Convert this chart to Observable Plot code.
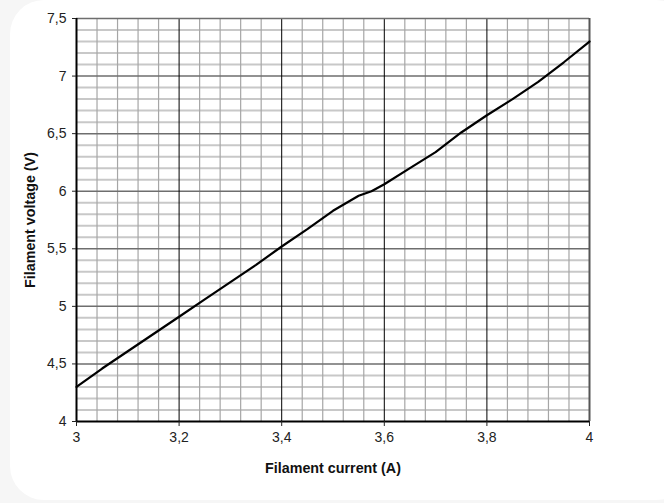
<!DOCTYPE html>
<html>
<head>
<meta charset="utf-8">
<script src="https://cdn.jsdelivr.net/npm/d3@7"></script>
<script src="https://cdn.jsdelivr.net/npm/@observablehq/plot@0.6"></script>
<style>
  html, body { margin: 0; padding: 0; background: #f6f6f6; width: 664px; height: 503px; overflow: hidden; }
  #card { position: absolute; left: 10px; top: 0; width: 680px; height: 500px; background: #fff; border-radius: 34px; }
  #chart { position: absolute; left: 0; top: 0; }
  svg { font-family: "Liberation Sans", Arial, sans-serif; }
</style>
</head>
<body>
<div id="card"></div>
<div id="chart"></div>
<script>
const current = [3.00, 3.05, 3.10, 3.15, 3.20, 3.25, 3.30, 3.35, 3.40, 3.45, 3.50, 3.55, 3.575, 3.60, 3.65, 3.70, 3.75, 3.80, 3.85, 3.90, 3.95, 4.00];
const voltage = [4.30, 4.46, 4.61, 4.76, 4.91, 5.06, 5.21, 5.36, 5.52, 5.67, 5.83, 5.96, 6.00, 6.06, 6.20, 6.34, 6.51, 6.66, 6.80, 6.95, 7.12, 7.30];
const xMajor = [3, 3.2, 3.4, 3.6, 3.8, 4];
const xMinor = [3.04, 3.08, 3.12, 3.16, 3.24, 3.28, 3.32, 3.36, 3.44, 3.48, 3.52, 3.56, 3.64, 3.68, 3.72, 3.76, 3.84, 3.88, 3.92, 3.96];
const yMajor = [4, 4.5, 5, 5.5, 6, 6.5, 7, 7.5];
const yMinor = [4.1, 4.2, 4.3, 4.4, 4.6, 4.7, 4.8, 4.9, 5.1, 5.2, 5.3, 5.4, 5.6, 5.7, 5.8, 5.9, 6.1, 6.2, 6.3, 6.4, 6.6, 6.7, 6.8, 6.9, 7.1, 7.2, 7.3, 7.4];
const xTitle = "Filament current (A)";
const yTitle = "Filament voltage (V)";

const data = current.map((c, i) => ({current: c, voltage: voltage[i]}));
const fmt = d => String(d).replace(".", ",");

const chart = Plot.plot({
  width: 664,
  height: 503,
  marginLeft: 76,
  marginRight: 75,
  marginTop: 18,
  marginBottom: 82,
  style: {fontFamily: "'Liberation Sans', Arial, sans-serif", fontSize: "13px", background: "transparent", color: "#222"},
  x: {domain: [3, 4]},
  y: {domain: [4, 7.5]},
  marks: [
    Plot.ruleY(yMinor, {stroke: "#c8c8c8", strokeWidth: 2}),
    Plot.ruleX(xMinor, {stroke: "#a6a6a6", strokeWidth: 1.2}),
    Plot.ruleY(yMajor.slice(1, -1), {stroke: "#6e6e6e", strokeWidth: 1.5}),
    Plot.ruleX(xMajor.slice(1, -1), {stroke: "#000", strokeWidth: 1}),
    Plot.ruleY([7.5], {stroke: "#6e6e6e", strokeWidth: 1.5}),
    Plot.ruleX([4], {stroke: "#555", strokeWidth: 2}),
    Plot.ruleX([3], {stroke: "#000", strokeWidth: 2}),
    Plot.ruleY([4], {stroke: "#000", strokeWidth: 2}),
    Plot.line(data, {x: "current", y: "voltage", stroke: "#000", strokeWidth: 2.2}),
    Plot.axisX(xMajor, {tickSize: 5, tickFormat: () => "", label: null}),
    Plot.axisY(yMajor, {tickSize: 4, tickFormat: () => "", label: null}),
    Plot.text(xMajor, {x: d => d, text: fmt, frameAnchor: "bottom", lineAnchor: "middle", dy: 16, fontSize: 14, fill: "#222"}),
    Plot.text(yMajor, {y: d => d, text: fmt, frameAnchor: "left", textAnchor: "end", lineAnchor: "middle", dx: -10, fontSize: 14, fill: "#222"}),
    Plot.text([xTitle], {frameAnchor: "bottom", lineAnchor: "middle", dy: 47, fontWeight: "bold", fontSize: 14.3, fill: "#111"}),
    Plot.text([yTitle], {frameAnchor: "left", textAnchor: "middle", lineAnchor: "middle", dx: -46, rotate: -90, fontWeight: "bold", fontSize: 14.3, fill: "#111"})
  ]
});
document.getElementById("chart").appendChild(chart);
</script>
</body>
</html>
